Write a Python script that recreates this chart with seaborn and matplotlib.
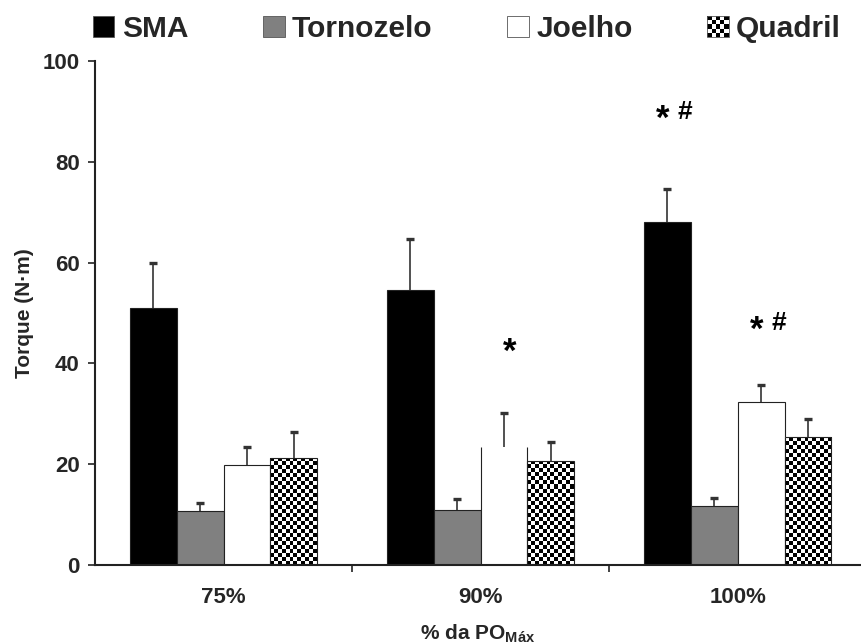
import numpy as np
import pandas as pd
import matplotlib
matplotlib.use("Agg")
import matplotlib.pyplot as plt
from matplotlib.patches import Rectangle, Patch
from matplotlib.legend_handler import HandlerBase
import seaborn as sns

# Torque por articulação em cada intensidade (% da potência máxima)
intensidades = ["75%", "90%", "100%"]
grupos = ["SMA", "Tornozelo", "Joelho", "Quadril"]
sma = [51.0, 54.5, 68.1]
tornozelo = [10.8, 11.0, 11.8]
joelho = [19.8, 23.4, 32.3]
quadril = [21.2, 20.7, 25.3]
sma_dp = [9.0, 10.2, 6.6]
tornozelo_dp = [1.6, 2.1, 1.4]
joelho_dp = [3.7, 6.8, 3.4]
quadril_dp = [5.1, 3.8, 3.7]

# Marcadores de significância: (intensidade, grupo, altura, símbolos)
sig_intensidade = ["90%", "100%", "100%"]
sig_grupo = ["Joelho", "SMA", "Joelho"]
sig_altura = [43.7, 89.9, 48.0]
sig_simbolos = [["*"], ["*", "#"], ["*", "#"]]

valores = [sma, tornozelo, joelho, quadril]
desvios = [sma_dp, tornozelo_dp, joelho_dp, quadril_dp]
df = pd.DataFrame({
    "intensidade": np.repeat([intensidades], len(grupos), axis=0).ravel(),
    "grupo": np.repeat(grupos, len(intensidades)),
    "torque": np.concatenate(valores),
})

sns.set_theme(style="ticks")
plt.rcParams["font.family"] = ["Liberation Sans", "DejaVu Sans"]
plt.rcParams["font.weight"] = "bold"
plt.rcParams["mathtext.fontset"] = "custom"
plt.rcParams["mathtext.rm"] = "Liberation Sans:bold"
plt.rcParams["mathtext.bf"] = "Liberation Sans:bold"

escuro = "#222222"
cores = ["black", "#808080", "white", "white"]

fig = plt.figure(figsize=(8.61, 6.44), dpi=100)
ax = fig.add_axes([95 / 861, 79 / 644, 766 / 861, 504 / 644])

sns.barplot(data=df, x="intensidade", y="torque", hue="grupo",
            order=intensidades, hue_order=grupos, palette=cores,
            edgecolor=escuro, linewidth=0.8, errorbar=None,
            width=0.73, legend=False, ax=ax, zorder=2)

ax.set_ylim(0, 100)
ax.set_xlim(-0.5, 2.48)
fig.canvas.draw()

# Padrão xadrez (Quadril) desenhado dentro de cada barra
CEL = 4.0  # tamanho da célula em pixels


def xadrez(nl, nc):
    return (np.add.outer(np.arange(nl), np.arange(nc)) % 2).astype(float)


for p in ax.containers[3].patches:
    bb = p.get_window_extent()
    nc = max(1, int(round(bb.width / CEL)))
    nl = max(1, int(np.ceil(bb.height / CEL)))
    x0, w, h = p.get_x(), p.get_width(), p.get_height()
    topo = nl * CEL / bb.height * h
    img = ax.imshow(xadrez(nl, nc), cmap="gray", vmin=0, vmax=1,
                    extent=(x0, x0 + w, 0, topo), origin="lower",
                    interpolation="nearest", aspect="auto", zorder=2.1)
    img.set_clip_path(p)
    p.set_facecolor("none")
    p.set_zorder(2.2)

# Barra do Joelho a 90% sem contorno superior
for cat, p in zip(intensidades, ax.containers[2].patches):
    if cat == "90%":
        p.set_edgecolor("none")
        x0, w, h = p.get_x(), p.get_width(), p.get_height()
        ax.vlines([x0, x0 + w], 0, h, colors=escuro, linewidth=0.8, zorder=2.3)

ax.set_ylim(0, 100)
ax.set_xlim(-0.5, 2.48)

# Barras de erro (somente para cima, sem traço inferior)
for cont, dp in zip(ax.containers, desvios):
    xs = [p.get_x() + p.get_width() / 2 for p in cont.patches]
    ys = [p.get_height() for p in cont.patches]
    eb = ax.errorbar(xs, ys, yerr=[np.zeros(len(dp)), dp], fmt="none",
                     ecolor="#333333", elinewidth=1.2, capsize=3, capthick=2.4,
                     zorder=3)
    caps = eb[1]
    if len(caps) == 2:
        caps[0].set_visible(False)

# Símbolos de significância
for cat, grp, alt, simb in zip(sig_intensidade, sig_grupo, sig_altura, sig_simbolos):
    cont = ax.containers[grupos.index(grp)]
    p = cont.patches[intensidades.index(cat)]
    xc = p.get_x() + p.get_width() / 2
    for k, s in enumerate(simb):
        if s == "*":
            dx = -3 if len(simb) > 1 else 4
            ax.annotate(s, (xc, alt), xytext=(dx, -5.5), textcoords="offset points",
                        ha="center", va="center", fontsize=25, fontweight="bold",
                        color="black")
        else:
            ax.annotate(s, (xc, alt), xytext=(13, 0), textcoords="offset points",
                        ha="center", va="center", fontsize=19, fontweight="bold",
                        color="black")

# Eixos
sns.despine(ax=ax)
for lado in ["left", "bottom"]:
    ax.spines[lado].set_linewidth(1.5)
    ax.spines[lado].set_color(escuro)
ax.set_yticks([0, 20, 40, 60, 80, 100])
ax.tick_params(axis="y", length=5, width=1.2, color=escuro, pad=6,
               labelsize=16)
ax.tick_params(axis="x", which="major", length=0, pad=16, labelsize=16)
ax.set_xticks([0.5, 1.5], minor=True)
ax.tick_params(axis="x", which="minor", length=5, width=1.2, color=escuro)
for t in ax.get_xticklabels() + ax.get_yticklabels():
    t.set_fontweight("bold")

ax.set_ylabel("Torque (N·m)", fontsize=15, fontweight="bold", labelpad=6)
ax.set_xlabel("% da PO$_{\\mathbf{Máx}}$", fontsize=15, fontweight="bold",
              labelpad=10)


# Legenda com quadrado xadrez para Quadril
class HandlerXadrez(HandlerBase):
    def create_artists(self, legend, orig_handle, xdescent, ydescent,
                       width, height, fontsize, trans):
        n = 5
        cw, ch = width / n, height / n
        arts = [Rectangle((-xdescent, -ydescent), width, height,
                          facecolor="white", edgecolor="none", transform=trans)]
        for i in range(n):
            for j in range(n):
                if (i + j) % 2 == 0:
                    arts.append(Rectangle((-xdescent + j * cw, -ydescent + i * ch),
                                          cw, ch, facecolor="black",
                                          edgecolor="none", transform=trans))
        arts.append(Rectangle((-xdescent, -ydescent), width, height,
                              facecolor="none", edgecolor="#555555",
                              linewidth=0.6, transform=trans))
        return arts


handles = [Patch(facecolor=c, edgecolor="#555555", linewidth=0.6)
           for c in cores[:3]]
marcador_xadrez = Patch(facecolor="white", edgecolor="#555555")
handles.append(marcador_xadrez)
fig.legend(handles, grupos, loc="center", bbox_to_anchor=(467 / 861, 1 - 29 / 644),
           ncol=4, frameon=False, prop={"weight": "bold", "size": 21.5},
           handlelength=0.72, handleheight=0.72, handletextpad=0.25,
           columnspacing=2.5, borderpad=0, borderaxespad=0,
           handler_map={marcador_xadrez: HandlerXadrez()})

fig.savefig("out.png", dpi=100)
